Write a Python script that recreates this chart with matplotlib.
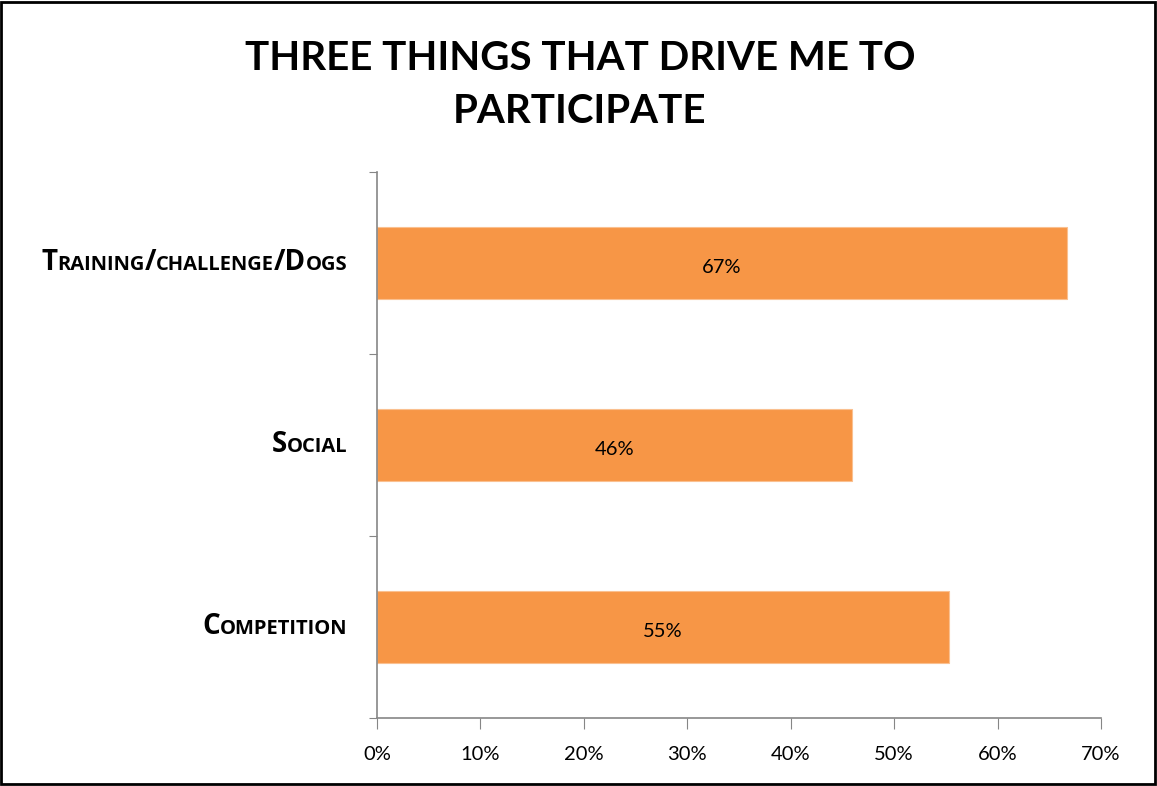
import matplotlib
matplotlib.use("Agg")
import matplotlib.pyplot as plt
from matplotlib.offsetbox import TextArea, HPacker, AnnotationBbox
from matplotlib.patches import Rectangle
import re

categories = ["Training/challenge/Dogs", "Social", "Competition"]
values = [66.7, 45.9, 55.3]
value_labels = ["67%", "46%", "55%"]
xticks = [0, 10, 20, 30, 40, 50, 60, 70]
xtick_labels = ["0%", "10%", "20%", "30%", "40%", "50%", "60%", "70%"]
title = "THREE THINGS THAT DRIVE ME TO\nPARTICIPATE"

FONT = "Lato"
LABEL_FONT = "Open Sans"
plt.rcParams['font.family'] = [FONT, 'DejaVu Sans']

fig = plt.figure(figsize=(11.57, 7.86), dpi=100)
ax = fig.add_axes([377/1157, 68/786, (1101-377)/1157, (718-172)/786])

bar_color = "#F79646"
ypos = list(range(len(categories)))
ax.barh(ypos, values, height=0.4, color=bar_color, edgecolor="#FAC090", linewidth=0.8)
for y, v, lab in zip(ypos, values, value_labels):
    ax.text(v / 2, y + 0.025, lab, ha="center", va="center", fontsize=14.5, color="black")

ax.set_xlim(0, 70)
ax.set_ylim(2.5, -0.5)
ax.set_xticks(xticks)
ax.set_xticklabels(xtick_labels, fontsize=14.5)
ax.set_yticks([-0.5, 0.5, 1.5, 2.5])
ax.set_yticklabels([])
ax.tick_params(axis="x", direction="out", length=8, color="#868686", pad=12)
ax.tick_params(axis="y", direction="out", length=6, color="#868686")
for s in ["top", "right"]:
    ax.spines[s].set_visible(False)
for s in ["left", "bottom"]:
    ax.spines[s].set_color("#868686")
    ax.spines[s].set_linewidth(1.2)

# small-caps category labels
def small_caps_box(text, big=20, small=14.5):
    parts = re.findall(r"[a-z]+|[^a-z]+", text)
    areas = []
    for p in parts:
        if p.islower():
            areas.append(TextArea(p.upper(), textprops=dict(fontsize=small, fontweight="bold", family=LABEL_FONT)))
        else:
            areas.append(TextArea(p, textprops=dict(fontsize=big, fontweight="bold", family=LABEL_FONT)))
    return HPacker(children=areas, pad=0, sep=0, align="baseline")

for y, cat in zip(ypos, categories):
    box = small_caps_box(cat)
    ab = AnnotationBbox(box, xy=(0, y), xycoords="data", xybox=(-21, 0),
                        boxcoords="offset points", box_alignment=(1, 0.5), frameon=False,
                        annotation_clip=False)
    ax.add_artist(ab)

fig.text(580/1157, 1 - 85/786, title, ha="center", va="center", fontsize=29,
         fontweight="bold", linespacing=1.55)

fig.patches.append(Rectangle((0.001, 0.002), 0.997, 0.996, transform=fig.transFigure,
                             fill=False, edgecolor="black", linewidth=2))

fig.savefig("out.png", dpi=100)
